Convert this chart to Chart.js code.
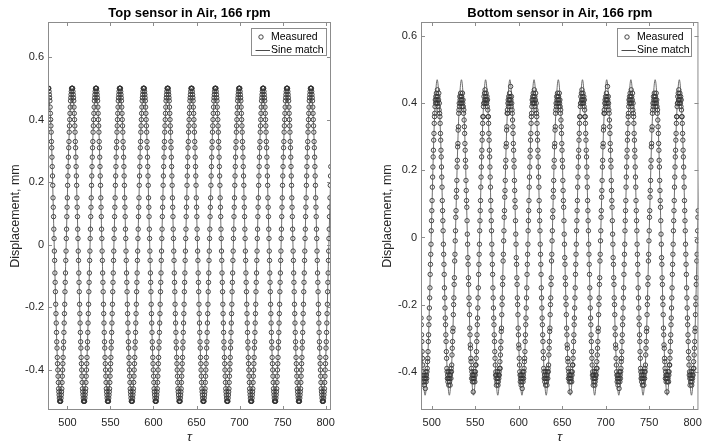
<!DOCTYPE html>
<html>
<head>
<meta charset="utf-8">
<title>Sensor displacement in air, 166 rpm</title>
<script src="https://cdn.jsdelivr.net/npm/chart.js@4.4.1/dist/chart.umd.min.js"></script>
<style>
  html, body { margin: 0; padding: 0; background: #fff; }
  #wrap { position: relative; width: 708px; height: 446px; }
  #wrap canvas { position: absolute; top: 0; }
  #topChart { left: 0; }
  #botChart { left: 354px; }
</style>
</head>
<body>
<div id="wrap">
  <canvas id="topChart" width="354" height="446"></canvas>
  <canvas id="botChart" width="354" height="446"></canvas>
</div>
<script>
// tick positions shared by both panels
const tauTicks = [500, 550, 600, 650, 700, 750, 800];
const dispTicks = [-0.4, -0.2, 0, 0.2, 0.4, 0.6];

// top sensor, measured displacement (mm), one sample every topDt starting at topT0
const topT0 = 477.7;
const topDt = 0.30833;
const topMeasured = [
  .5,.5,.5,.49,.48,.47,.46,.44,.42,.4,.38,.36,.33,.31,.28,.25,.22,.19,.15,.12,.09,.05,.02,-.02,-.05,-.09,-.12,-.15,-.19,-.22,-.25,-.28,-.31,-.33,-.36,-.38,-.4,-.42,-.44,-.46,-.47,-.48,-.49,-.5,-.5,-.5,-.5,-.5,-.49,-.48,-.47,-.46,-.44,-.42,-.4,-.38,-.36,-.33,-.31,-.28,-.25,-.22,-.19,-.15,-.12,-.09,-.05,-.02,.02,.05,.09,.12,.15,.19,.22,.25,.28,.31,.33,.36,.38,.4,.42,.44,.46,.47,.48,.49,.5,.5,
  .5,.5,.5,.49,.48,.47,.46,.44,.42,.4,.38,.36,.33,.31,.28,.25,.22,.19,.15,.12,.09,.05,.02,-.02,-.05,-.09,-.12,-.15,-.19,-.22,-.25,-.28,-.31,-.33,-.36,-.38,-.4,-.42,-.44,-.46,-.47,-.48,-.49,-.5,-.5,-.5,-.5,-.5,-.49,-.48,-.47,-.46,-.44,-.42,-.4,-.38,-.36,-.33,-.31,-.28,-.25,-.22,-.19,-.15,-.12,-.09,-.05,-.02,.02,.05,.09,.12,.15,.19,.22,.25,.28,.31,.33,.36,.38,.4,.42,.44,.46,.47,.48,.49,.5,.5,
  .5,.5,.5,.49,.48,.47,.46,.44,.42,.4,.38,.36,.33,.31,.28,.25,.22,.19,.15,.12,.09,.05,.02,-.02,-.05,-.09,-.12,-.15,-.19,-.22,-.25,-.28,-.31,-.33,-.36,-.38,-.4,-.42,-.44,-.46,-.47,-.48,-.49,-.5,-.5,-.5,-.5,-.5,-.49,-.48,-.47,-.46,-.44,-.42,-.4,-.38,-.36,-.33,-.31,-.28,-.25,-.22,-.19,-.15,-.12,-.09,-.05,-.02,.02,.05,.09,.12,.15,.19,.22,.25,.28,.31,.33,.36,.38,.4,.42,.44,.46,.47,.48,.49,.5,.5,
  .5,.5,.5,.49,.48,.47,.46,.44,.42,.4,.38,.36,.33,.31,.28,.25,.22,.19,.15,.12,.09,.05,.02,-.02,-.05,-.09,-.12,-.15,-.19,-.22,-.25,-.28,-.31,-.33,-.36,-.38,-.4,-.42,-.44,-.46,-.47,-.48,-.49,-.5,-.5,-.5,-.5,-.5,-.49,-.48,-.47,-.46,-.44,-.42,-.4,-.38,-.36,-.33,-.31,-.28,-.25,-.22,-.19,-.15,-.12,-.09,-.05,-.02,.02,.05,.09,.12,.15,.19,.22,.25,.28,.31,.33,.36,.38,.4,.42,.44,.46,.47,.48,.49,.5,.5,
  .5,.5,.5,.49,.48,.47,.46,.44,.42,.4,.38,.36,.33,.31,.28,.25,.22,.19,.15,.12,.09,.05,.02,-.02,-.05,-.09,-.12,-.15,-.19,-.22,-.25,-.28,-.31,-.33,-.36,-.38,-.4,-.42,-.44,-.46,-.47,-.48,-.49,-.5,-.5,-.5,-.5,-.5,-.49,-.48,-.47,-.46,-.44,-.42,-.4,-.38,-.36,-.33,-.31,-.28,-.25,-.22,-.19,-.15,-.12,-.09,-.05,-.02,.02,.05,.09,.12,.15,.19,.22,.25,.28,.31,.33,.36,.38,.4,.42,.44,.46,.47,.48,.49,.5,.5,
  .5,.5,.5,.49,.48,.47,.46,.44,.42,.4,.38,.36,.33,.31,.28,.25,.22,.19,.15,.12,.09,.05,.02,-.02,-.05,-.09,-.12,-.15,-.19,-.22,-.25,-.28,-.31,-.33,-.36,-.38,-.4,-.42,-.44,-.46,-.47,-.48,-.49,-.5,-.5,-.5,-.5,-.5,-.49,-.48,-.47,-.46,-.44,-.42,-.4,-.38,-.36,-.33,-.31,-.28,-.25,-.22,-.19,-.15,-.12,-.09,-.05,-.02,.02,.05,.09,.12,.15,.19,.22,.25,.28,.31,.33,.36,.38,.4,.42,.44,.46,.47,.48,.49,.5,.5,
  .5,.5,.5,.49,.48,.47,.46,.44,.42,.4,.38,.36,.33,.31,.28,.25,.22,.19,.15,.12,.09,.05,.02,-.02,-.05,-.09,-.12,-.15,-.19,-.22,-.25,-.28,-.31,-.33,-.36,-.38,-.4,-.42,-.44,-.46,-.47,-.48,-.49,-.5,-.5,-.5,-.5,-.5,-.49,-.48,-.47,-.46,-.44,-.42,-.4,-.38,-.36,-.33,-.31,-.28,-.25,-.22,-.19,-.15,-.12,-.09,-.05,-.02,.02,.05,.09,.12,.15,.19,.22,.25,.28,.31,.33,.36,.38,.4,.42,.44,.46,.47,.48,.49,.5,.5,
  .5,.5,.5,.49,.48,.47,.46,.44,.42,.4,.38,.36,.33,.31,.28,.25,.22,.19,.15,.12,.09,.05,.02,-.02,-.05,-.09,-.12,-.15,-.19,-.22,-.25,-.28,-.31,-.33,-.36,-.38,-.4,-.42,-.44,-.46,-.47,-.48,-.49,-.5,-.5,-.5,-.5,-.5,-.49,-.48,-.47,-.46,-.44,-.42,-.4,-.38,-.36,-.33,-.31,-.28,-.25,-.22,-.19,-.15,-.12,-.09,-.05,-.02,.02,.05,.09,.12,.15,.19,.22,.25,.28,.31,.33,.36,.38,.4,.42,.44,.46,.47,.48,.49,.5,.5,
  .5,.5,.5,.49,.48,.47,.46,.44,.42,.4,.38,.36,.33,.31,.28,.25,.22,.19,.15,.12,.09,.05,.02,-.02,-.05,-.09,-.12,-.15,-.19,-.22,-.25,-.28,-.31,-.33,-.36,-.38,-.4,-.42,-.44,-.46,-.47,-.48,-.49,-.5,-.5,-.5,-.5,-.5,-.49,-.48,-.47,-.46,-.44,-.42,-.4,-.38,-.36,-.33,-.31,-.28,-.25,-.22,-.19,-.15,-.12,-.09,-.05,-.02,.02,.05,.09,.12,.15,.19,.22,.25,.28,.31,.33,.36,.38,.4,.42,.44,.46,.47,.48,.49,.5,.5,
  .5,.5,.5,.49,.48,.47,.46,.44,.42,.4,.38,.36,.33,.31,.28,.25,.22,.19,.15,.12,.09,.05,.02,-.02,-.05,-.09,-.12,-.15,-.19,-.22,-.25,-.28,-.31,-.33,-.36,-.38,-.4,-.42,-.44,-.46,-.47,-.48,-.49,-.5,-.5,-.5,-.5,-.5,-.49,-.48,-.47,-.46,-.44,-.42,-.4,-.38,-.36,-.33,-.31,-.28,-.25,-.22,-.19,-.15,-.12,-.09,-.05,-.02,.02,.05,.09,.12,.15,.19,.22,.25,.28,.31,.33,.36,.38,.4,.42,.44,.46,.47,.48,.49,.5,.5,
  .5,.5,.5,.49,.48,.47,.46,.44,.42,.4,.38,.36,.33,.31,.28,.25,.22,.19,.15,.12,.09,.05,.02,-.02,-.05,-.09,-.12,-.15,-.19,-.22,-.25,-.28,-.31,-.33,-.36,-.38,-.4,-.42,-.44,-.46,-.47,-.48,-.49,-.5,-.5,-.5,-.5,-.5,-.49,-.48,-.47,-.46,-.44,-.42,-.4,-.38,-.36,-.33,-.31,-.28,-.25,-.22,-.19,-.15,-.12,-.09,-.05,-.02,.02,.05,.09,.12,.15,.19,.22,.25,.28,.31,.33,.36,.38,.4,.42,.44,.46,.47,.48,.49,.5,.5,
  .5,.5,.5,.49,.48,.47,.46,.44,.42,.4,.38,.36,.33,.31,.28,.25,.22,.19,.15,.12,.09,.05,.02,-.02,-.05,-.09,-.12,-.15,-.19,-.22,-.25,-.28,-.31,-.33,-.36,-.38,-.4,-.42,-.44,-.46,-.47,-.48,-.49,-.5,-.5,-.5,-.5,-.5,-.49,-.48,-.47,-.46,-.44,-.42,-.4,-.38,-.36,-.33,-.31,-.28,-.25,-.22,-.19,-.15,-.12,-.09,-.05,-.02,.02,.05,.09,.12,.15,.19,.22,.25
];

// top sensor, fitted sine: nodes every eighth of a period
const topFitTau = [
  477.7,481.2,484.6,488.1,491.6,495.0,498.5,502.0,
  505.5,508.9,512.4,515.9,519.3,522.8,526.3,529.7,
  533.2,536.7,540.1,543.6,547.1,550.5,554.0,557.5,
  561.0,564.4,567.9,571.4,574.8,578.3,581.8,585.2,
  588.7,592.2,595.6,599.1,602.6,606.0,609.5,613.0,
  616.5,619.9,623.4,626.9,630.3,633.8,637.3,640.7,
  644.2,647.7,651.1,654.6,658.1,661.5,665.0,668.5,
  672.0,675.4,678.9,682.4,685.8,689.3,692.8,696.2,
  699.7,703.2,706.6,710.1,713.6,717.0,720.5,724.0,
  727.5,730.9,734.4,737.9,741.3,744.8,748.3,751.7,
  755.2,758.7,762.1,765.6,769.1,772.5,776.0,779.5,
  783.0,786.4,789.9,793.4,796.8,800.3,803.8,807.2
];
const topFitDisp = [
  .5,.354,0,-.354,-.5,-.354,0,.354,
  .5,.354,0,-.354,-.5,-.354,0,.354,
  .5,.354,0,-.354,-.5,-.354,0,.354,
  .5,.354,0,-.354,-.5,-.354,0,.354,
  .5,.354,0,-.354,-.5,-.354,0,.354,
  .5,.354,0,-.354,-.5,-.354,0,.354,
  .5,.354,0,-.354,-.5,-.354,0,.354,
  .5,.354,0,-.354,-.5,-.354,0,.354,
  .5,.354,0,-.354,-.5,-.354,0,.354,
  .5,.354,0,-.354,-.5,-.354,0,.354,
  .5,.354,0,-.354,-.5,-.354,0,.354,
  .5,.354,0,-.354,-.5,-.354,0,.354
];

// bottom sensor, measured displacement (mm), one sample every botDt starting at botT0
const botT0 = 487.66;
const botDt = 0.30944;
const botMeasured = [
  -.24,-.26,-.29,-.31,-.34,-.36,-.38,-.40,-.41,-.43,-.42,-.41,-.44,-.42,-.43,-.41,-.45,-.42,-.40,-.43,-.41,-.42,-.40,-.39,-.37,-.36,-.34,-.31,-.29,-.26,-.24,-.21,-.18,-.15,-.11,-.08,-.05,-.02,.02,.05,.08,.11,.15,.18,.21,.24,.26,.29,.31,.34,.36,.37,.39,.41,.40,.42,.41,.43,.40,.42,
  .41,.44,.40,.42,.39,.41,.43,.38,.40,.37,.36,.34,.31,.29,.26,.24,.21,.18,.15,.11,.08,.05,.02,-.02,-.05,-.08,-.11,-.15,-.18,-.21,-.24,-.26,-.29,-.31,-.34,-.36,-.39,-.40,-.42,-.41,-.43,-.42,-.40,-.44,-.42,-.41,-.43,-.42,-.44,-.41,-.40,-.42,-.39,-.40,-.38,-.35,-.33,-.31,-.28,-.27,-.23,-.20,-.18,-.14,-.12,-.07,-.05,-.01,.02,.06,.08,.12,.14,.17,.21,.23,.27,.28,.32,.33,.37,.38,.40,.39,.42,.41,.40,.43,.42,.41,
  .40,.42,.41,.39,.43,.40,.41,.39,.37,.38,.35,.33,.31,.28,.26,.23,.21,.17,.14,.11,.09,.05,.01,-.02,-.06,-.08,-.12,-.14,-.18,-.20,-.23,-.27,-.29,-.32,-.33,-.36,-.37,-.39,-.42,-.40,-.41,-.43,-.42,-.41,-.46,-.42,-.43,-.41,-.42,-.40,-.43,-.41,-.40,-.38,-.38,-.36,-.34,-.31,-.29,-.26,-.24,-.21,-.18,-.15,-.11,-.08,-.05,-.02,.02,.05,.08,.11,.15,.18,.21,.24,.26,.29,.31,.34,.36,.36,.39,.40,.42,.40,.43,.41,.44,.41,
  .42,.40,.43,.41,.40,.42,.39,.41,.38,.36,.36,.34,.31,.29,.26,.24,.21,.18,.15,.11,.08,.05,.02,-.02,-.05,-.08,-.11,-.15,-.18,-.21,-.24,-.26,-.29,-.31,-.34,-.36,-.38,-.41,-.40,-.42,-.44,-.41,-.43,-.42,-.40,-.42,-.44,-.43,-.41,-.42,-.40,-.41,-.39,-.37,-.39,-.35,-.33,-.31,-.28,-.27,-.23,-.20,-.18,-.14,-.12,-.07,-.05,-.01,.02,.06,.08,.12,.14,.17,.21,.23,.27,.28,.32,.33,.37,.38,.37,.40,.41,.39,.42,.40,.41,.43,
  .41,.42,.40,.45,.41,.39,.42,.40,.38,.37,.35,.33,.31,.28,.26,.23,.21,.17,.14,.11,.09,.05,.01,-.02,-.06,-.08,-.12,-.14,-.18,-.20,-.23,-.27,-.29,-.32,-.33,-.36,-.38,-.40,-.41,-.43,-.42,-.41,-.44,-.42,-.43,-.41,-.45,-.42,-.40,-.43,-.41,-.42,-.40,-.39,-.37,-.36,-.34,-.31,-.29,-.26,-.24,-.21,-.18,-.15,-.11,-.08,-.05,-.02,.02,.05,.08,.11,.15,.18,.21,.24,.26,.29,.31,.34,.36,.37,.39,.41,.40,.42,.41,.43,.40,.42,
  .41,.44,.40,.42,.39,.41,.43,.38,.40,.37,.36,.34,.31,.29,.26,.24,.21,.18,.15,.11,.08,.05,.02,-.02,-.05,-.08,-.11,-.15,-.18,-.21,-.24,-.26,-.29,-.31,-.34,-.36,-.39,-.40,-.42,-.41,-.43,-.42,-.40,-.44,-.42,-.41,-.43,-.42,-.44,-.41,-.40,-.42,-.39,-.40,-.38,-.35,-.33,-.31,-.28,-.27,-.23,-.20,-.18,-.14,-.12,-.07,-.05,-.01,.02,.06,.08,.12,.14,.17,.21,.23,.27,.28,.32,.33,.37,.38,.40,.39,.42,.41,.40,.43,.42,.41,
  .40,.42,.41,.39,.43,.40,.41,.39,.37,.38,.35,.33,.31,.28,.26,.23,.21,.17,.14,.11,.09,.05,.01,-.02,-.06,-.08,-.12,-.14,-.18,-.20,-.23,-.27,-.29,-.32,-.33,-.36,-.37,-.39,-.42,-.40,-.41,-.43,-.42,-.41,-.46,-.42,-.43,-.41,-.42,-.40,-.43,-.41,-.40,-.38,-.38,-.36,-.34,-.31,-.29,-.26,-.24,-.21,-.18,-.15,-.11,-.08,-.05,-.02,.02,.05,.08,.11,.15,.18,.21,.24,.26,.29,.31,.34,.36,.36,.39,.40,.42,.40,.43,.41,.44,.41,
  .42,.40,.43,.41,.40,.42,.39,.41,.38,.36,.36,.34,.31,.29,.26,.24,.21,.18,.15,.11,.08,.05,.02,-.02,-.05,-.08,-.11,-.15,-.18,-.21,-.24,-.26,-.29,-.31,-.34,-.36,-.38,-.41,-.40,-.42,-.44,-.41,-.43,-.42,-.40,-.42,-.44,-.43,-.41,-.42,-.40,-.41,-.39,-.37,-.39,-.35,-.33,-.31,-.28,-.27,-.23,-.20,-.18,-.14,-.12,-.07,-.05,-.01,.02,.06,.08,.12,.14,.17,.21,.23,.27,.28,.32,.33,.37,.38,.37,.40,.41,.39,.42,.40,.41,.43,
  .41,.42,.40,.45,.41,.39,.42,.40,.38,.37,.35,.33,.31,.28,.26,.23,.21,.17,.14,.11,.09,.05,.01,-.02,-.06,-.08,-.12,-.14,-.18,-.20,-.23,-.27,-.29,-.32,-.33,-.36,-.38,-.40,-.41,-.43,-.42,-.41,-.44,-.42,-.43,-.41,-.45,-.42,-.40,-.43,-.41,-.42,-.40,-.39,-.37,-.36,-.34,-.31,-.29,-.26,-.24,-.21,-.18,-.15,-.11,-.08,-.05,-.02,.02,.05,.08,.11,.15,.18,.21,.24,.26,.29,.31,.34,.36,.37,.39,.41,.40,.42,.41,.43,.40,.42,
  .41,.44,.40,.42,.39,.41,.43,.38,.40,.37,.36,.34,.31,.29,.26,.24,.21,.18,.15,.11,.08,.05,.02,-.02,-.05,-.08,-.11,-.15,-.18,-.21,-.24,-.26,-.29,-.31,-.34,-.36,-.39,-.40,-.42,-.41,-.43,-.42,-.40,-.44,-.42,-.41,-.43,-.42,-.44,-.41,-.40,-.42,-.39,-.40,-.38,-.35,-.33,-.31,-.28,-.27,-.23,-.20,-.18,-.14,-.12,-.07,-.05,-.01,.02,.06,.08,.12,.14,.17,.21,.23,.27,.28,.32,.33,.37,.38,.40,.39,.42,.41,.40,.43,.42,.41,
  .40,.42,.41,.39,.43,.40,.41,.39,.37,.38,.35,.33,.31,.28,.26,.23,.21,.17,.14,.11,.09,.05,.01,-.02,-.06,-.08,-.12,-.14,-.18,-.20,-.23,-.27,-.29,-.32,-.33,-.36,-.37,-.39,-.42,-.40,-.41,-.43,-.42,-.41,-.46,-.42,-.43,-.41,-.42,-.40,-.43,-.41,-.40,-.38,-.38,-.36,-.34,-.31,-.29,-.26,-.24,-.21,-.18,-.15,-.11,-.08,-.05,-.02,.02,.05,.08,.11,.15,.18,.21,.24,.26,.29,.31,.34,.36,.36,.39,.40,.42,.40,.43,.41,.44,.41,
  .42,.40,.43,.41,.40,.42,.39,.41,.38,.36,.36,.34,.31,.29,.26,.24,.21,.18,.15,.11,.08,.05,.02,-.02,-.05,-.08,-.11,-.15,-.18,-.21,-.24,-.26,-.29,-.31,-.34,-.36,-.38,-.41,-.40,-.42,-.44,-.41,-.43,-.42,-.40,-.42,-.44,-.43,-.41,-.42,-.40,-.41,-.39,-.37,-.39,-.35,-.33,-.31,-.28,-.27,-.23,-.20,-.18,-.14,-.12,-.07,-.05,-.01,.02,.06,.08
];

// bottom sensor, fitted sine: nodes every eighth of a period
const botFitTau = [
  485.3,488.8,492.3,495.8,499.3,502.8,506.2,509.7,
  513.2,516.7,520.2,523.6,527.1,530.6,534.1,537.6,
  541.0,544.5,548.0,551.5,555.0,558.5,561.9,565.4,
  568.9,572.4,575.9,579.3,582.8,586.3,589.8,593.3,
  596.7,600.2,603.7,607.2,610.7,614.2,617.6,621.1,
  624.6,628.1,631.6,635.0,638.5,642.0,645.5,649.0,
  652.4,655.9,659.4,662.9,666.4,669.9,673.3,676.8,
  680.3,683.8,687.3,690.7,694.2,697.7,701.2,704.7,
  708.1,711.6,715.1,718.6,722.1,725.6,729.0,732.5,
  736.0,739.5,743.0,746.4,749.9,753.4,756.9,760.4,
  763.8,767.3,770.8,774.3,777.8,781.2,784.7,788.2,
  791.7,795.2,798.7,802.1,805.6,809.1
];
const botFitDisp = [
  0,-.332,-.47,-.332,0,.332,.47,.332,
  0,-.332,-.47,-.332,0,.332,.47,.332,
  0,-.332,-.47,-.332,0,.332,.47,.332,
  0,-.332,-.47,-.332,0,.332,.47,.332,
  0,-.332,-.47,-.332,0,.332,.47,.332,
  0,-.332,-.47,-.332,0,.332,.47,.332,
  0,-.332,-.47,-.332,0,.332,.47,.332,
  0,-.332,-.47,-.332,0,.332,.47,.332,
  0,-.332,-.47,-.332,0,.332,.47,.332,
  0,-.332,-.47,-.332,0,.332,.47,.332,
  0,-.332,-.47,-.332,0,.332,.47,.332,
  0,-.332,-.47,-.332,0,.332
];

const fontStack = '"Liberation Sans", Arial, Helvetica, sans-serif';
const frameGray = '#8c8c8c';
const textGray = '#262626';

Chart.defaults.font.family = fontStack;
Chart.defaults.font.size = 11;
Chart.defaults.color = textGray;

function sampled(t0, dt, values) {
  return values.map((v, i) => ({ x: t0 + i * dt, y: v }));
}

function pairUp(xs, ys) {
  return xs.map((x, i) => ({ x: x, y: ys[i] }));
}

// box round the axes, inward ticks on all four sides, and the boxed legend
const frameAndLegend = {
  id: 'frameAndLegend',
  afterDatasetsDraw(chart, args, opts) {
    const ctx = chart.ctx;
    const a = chart.chartArea;
    const xs = chart.scales.x;
    const ys = chart.scales.y;

    ctx.save();
    ctx.strokeStyle = frameGray;
    ctx.lineWidth = 1;
    ctx.beginPath();
    tauTicks.forEach(v => {
      const px = Math.round(xs.getPixelForValue(v)) + 0.5;
      ctx.moveTo(px, a.bottom); ctx.lineTo(px, a.bottom - 4);
      ctx.moveTo(px, a.top); ctx.lineTo(px, a.top + 4);
    });
    dispTicks.forEach(v => {
      const py = Math.round(ys.getPixelForValue(v)) + 0.5;
      ctx.moveTo(a.left, py); ctx.lineTo(a.left + 4, py);
      ctx.moveTo(a.right, py); ctx.lineTo(a.right - 4, py);
    });
    ctx.stroke();
    ctx.strokeRect(a.left + 0.5, a.top + 0.5, a.right - a.left - 1, a.bottom - a.top - 1);

    // legend
    const measured = chart.data.datasets.find(d => d.label === 'Measured');
    const fit = chart.data.datasets.find(d => d.label === 'Sine match');
    const bx = Math.round(a.right - opts.right - opts.width) + 0.5;
    const by = Math.round(a.top + opts.top) + 0.5;
    ctx.fillStyle = '#fff';
    ctx.fillRect(bx, by, opts.width, opts.height);
    ctx.strokeStyle = frameGray;
    ctx.strokeRect(bx, by, opts.width, opts.height);

    ctx.strokeStyle = measured.pointBorderColor;
    ctx.lineWidth = measured.pointBorderWidth;
    ctx.beginPath();
    ctx.arc(bx + 9.5, by + 8.5, measured.pointRadius, 0, Math.PI * 2);
    ctx.stroke();

    ctx.strokeStyle = fit.borderColor;
    ctx.lineWidth = 1;
    ctx.beginPath();
    ctx.moveTo(bx + 4, by + 22);
    ctx.lineTo(bx + 18.5, by + 22);
    ctx.stroke();

    ctx.fillStyle = '#000';
    ctx.font = '10.5px ' + fontStack;
    ctx.textAlign = 'left';
    ctx.textBaseline = 'middle';
    ctx.fillText(measured.label, bx + 19.5, by + 8.5);
    ctx.fillText(fit.label, bx + 19.5, by + 22);
    ctx.restore();
  }
};

function buildPanel(canvasId, p) {
  return new Chart(document.getElementById(canvasId), {
    type: 'scatter',
    data: {
      datasets: [
        {
          label: 'Sine match',
          data: pairUp(p.fitTau, p.fitDisp),
          showLine: true,
          borderColor: '#4a4a4a',
          borderWidth: 0.8,
          pointRadius: 0,
          cubicInterpolationMode: 'monotone',
          order: 0
        },
        {
          label: 'Measured',
          data: sampled(p.t0, p.dt, p.measured),
          showLine: false,
          pointStyle: 'circle',
          pointRadius: 2.2,
          pointBorderWidth: 0.9,
          pointBorderColor: '#333333',
          pointBackgroundColor: 'rgba(0,0,0,0)',
          order: 1
        }
      ]
    },
    options: {
      responsive: false,
      animation: false,
      events: [],
      layout: { padding: { left: 0, right: p.padRight, top: 0, bottom: 0 } },
      plugins: {
        legend: { display: false },
        tooltip: { enabled: false },
        title: {
          display: true,
          text: p.title,
          fullSize: false,
          color: '#000',
          font: { size: 13, weight: 'bold' },
          padding: { top: 5.4, bottom: 1 }
        },
        frameAndLegend: p.legend
      },
      scales: {
        x: {
          type: 'linear',
          min: p.xMin,
          max: p.xMax,
          grid: { display: false, drawTicks: false },
          border: { display: false },
          ticks: { padding: 6, maxRotation: 0, callback: v => String(v) },
          afterBuildTicks: s => { s.ticks = tauTicks.map(v => ({ value: v })); },
          afterFit: s => { s.height = 36; },
          title: {
            display: true,
            text: 'τ',
            color: textGray,
            font: { size: 13, style: 'italic' },
            padding: { top: 0, bottom: 1 }
          }
        },
        y: {
          type: 'linear',
          min: p.yMin,
          max: p.yMax,
          grid: { display: false, drawTicks: false },
          border: { display: false },
          ticks: { padding: 4, callback: v => String(Math.round(v * 10) / 10) },
          afterBuildTicks: s => { s.ticks = dispTicks.map(v => ({ value: v })); },
          afterFit: s => { s.width = p.axisLeft; },
          title: {
            display: true,
            text: 'Displacement, mm',
            color: textGray,
            font: { size: 12.5 },
            padding: { top: p.yTitlePad, bottom: 0 }
          }
        }
      }
    },
    plugins: [frameAndLegend]
  });
}

buildPanel('topChart', {
  title: 'Top sensor in Air, 166 rpm',
  t0: topT0, dt: topDt, measured: topMeasured,
  fitTau: topFitTau, fitDisp: topFitDisp,
  xMin: 477.4, xMax: 806.3, yMin: -0.528, yMax: 0.712,
  axisLeft: 48, padRight: 23, yTitlePad: 8.2,
  legend: { right: 5, top: 6, width: 75, height: 27 }
});

buildPanel('botChart', {
  title: 'Bottom sensor in Air, 166 rpm',
  t0: botT0, dt: botDt, measured: botMeasured,
  fitTau: botFitTau, fitDisp: botFitDisp,
  xMin: 487.6, xMax: 806.7, yMin: -0.514, yMax: 0.642,
  axisLeft: 67, padRight: 3, yTitlePad: 26.3,
  legend: { right: 7.5, top: 6, width: 74, height: 28 }
});
</script>
</body>
</html>
